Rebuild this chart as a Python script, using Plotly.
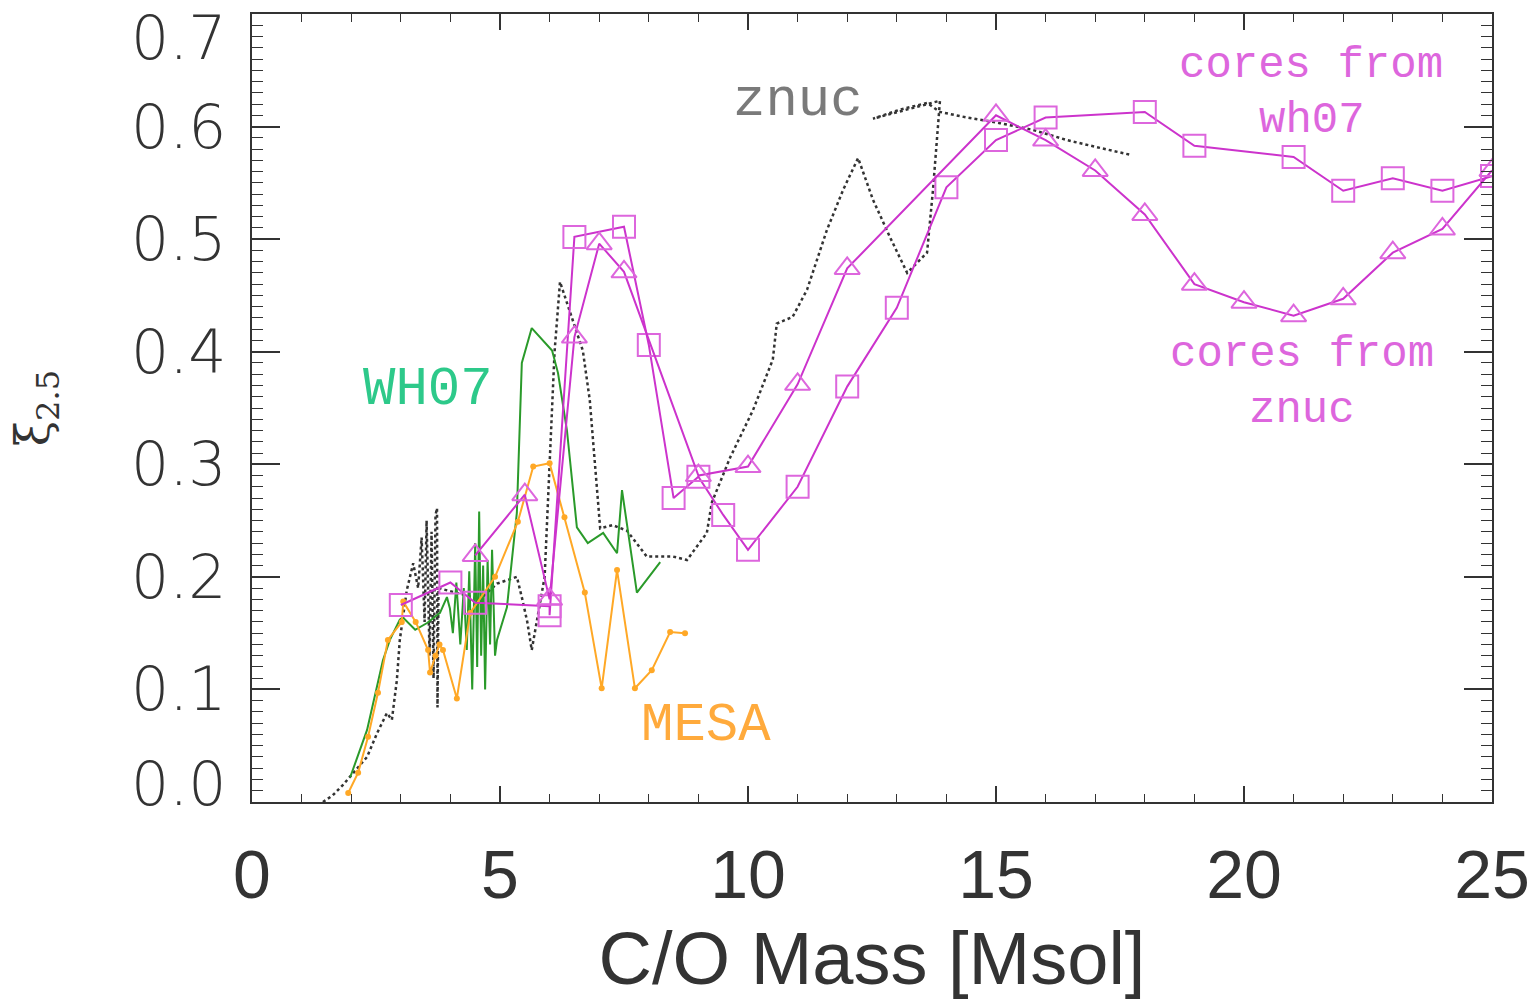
import plotly.graph_objects as go

# ---------------- data ----------------
# znuc (black dotted)
znuc_x = [1.43, 1.63, 1.83, 2.32, 2.52, 2.72, 2.82, 2.92, 2.98, 3.12, 3.25,
          3.35, 3.42, 3.48, 3.52, 3.58, 3.62, 3.66, 3.70, 3.73, 3.74, 3.76,
          4.20, 4.60, 4.94, 5.34, 5.45, 5.55, 5.64, 5.90, 6.00, 6.10, 6.21,
          6.67, 6.81, 6.92, 7.02, 7.27, 7.56, 7.96, 8.49, 8.77, 9.17, 9.27,
          9.64, 10.10, 10.50, 10.58, 10.90, 11.19, 11.59, 11.92, 12.22, 12.52,
          12.86, 13.21, 13.61, 13.73, 13.83, 13.87, 12.52, 13.06, 13.61, 13.87,
          14.42, 15.08, 15.75, 16.43, 17.10, 17.70]
znuc_y = [0.000, 0.006, 0.015, 0.040, 0.061, 0.079, 0.073, 0.108, 0.144, 0.188, 0.212,
          0.190, 0.235, 0.160, 0.250, 0.130, 0.240, 0.110, 0.255, 0.261, 0.084, 0.190,
          0.185, 0.180, 0.194, 0.200, 0.180, 0.160, 0.135, 0.200, 0.300, 0.400, 0.462,
          0.401, 0.357, 0.298, 0.243, 0.246, 0.241, 0.218, 0.218, 0.215, 0.239, 0.266,
          0.306, 0.348, 0.393, 0.425, 0.431, 0.455, 0.508, 0.544, 0.572, 0.535,
          0.502, 0.470, 0.488, 0.544, 0.603, 0.623, 0.607, 0.615, 0.621, 0.613,
          0.608, 0.603, 0.597, 0.588, 0.581, 0.575]

# WH07 (green)
wh07_x = [1.98, 2.32, 2.64, 2.78, 2.98, 3.04, 3.29, 3.53, 3.79, 3.93, 3.99,
          4.05, 4.12, 4.20, 4.27, 4.33, 4.38, 4.44, 4.50, 4.54, 4.58, 4.62,
          4.66, 4.70, 4.75, 4.80, 4.84, 4.90, 4.94, 5.14, 5.34, 5.44, 5.64,
          6.05, 6.17, 6.35, 6.55, 6.77, 7.08, 7.36, 7.46, 7.76, 8.23]
wh07_y = [0.022, 0.064, 0.126, 0.144, 0.162, 0.164, 0.153, 0.159, 0.168, 0.182, 0.172,
          0.150, 0.195, 0.140, 0.190, 0.135, 0.205, 0.100, 0.230, 0.120, 0.258, 0.130,
          0.210, 0.100, 0.215, 0.140, 0.224, 0.130, 0.144, 0.173, 0.257, 0.390, 0.421,
          0.401, 0.381, 0.330, 0.244, 0.230, 0.239, 0.221, 0.277, 0.186, 0.213]

# MESA (orange, dotted markers)
mesa_x = [1.94, 2.14, 2.34, 2.54, 2.74, 3.02, 3.05, 3.30, 3.55, 3.59, 3.70,
          3.78, 3.85, 4.13, 4.40, 4.90, 5.36, 5.67, 6.00, 6.30, 6.71, 7.05,
          7.36, 7.72, 8.06, 8.43, 8.73]
mesa_y = [0.008, 0.026, 0.058, 0.097, 0.144, 0.160, 0.178, 0.160, 0.135, 0.115, 0.130,
          0.140, 0.135, 0.092, 0.168, 0.200, 0.249, 0.298, 0.301, 0.253, 0.186, 0.101,
          0.206, 0.101, 0.117, 0.151, 0.150]

# cores from wh07 (squares)
sq_x = [3.0, 4.0, 4.5, 6.0, 6.0, 6.5, 7.5, 8.0, 8.5, 9.0, 9.5, 10.0, 11.0, 12.0,
        13.0, 14.0, 15.0, 16.0, 18.0, 19.0, 21.0, 22.0, 23.0, 24.0, 25.0]
sq_y = [0.175, 0.195, 0.177, 0.174, 0.166, 0.502, 0.511, 0.406, 0.270, 0.289, 0.255,
        0.224, 0.280, 0.369, 0.439, 0.546, 0.588, 0.608, 0.613, 0.583, 0.573, 0.543,
        0.554, 0.543, 0.556]

# cores from znuc (triangles)
tri_x = [4.5, 5.5, 6.0, 6.5, 7.0, 7.5, 9.0, 10.0, 11.0, 12.0, 15.0, 16.0, 17.0,
         18.0, 19.0, 20.0, 21.0, 22.0, 23.0, 24.0, 25.0]
tri_y = [0.219, 0.273, 0.180, 0.413, 0.496, 0.471, 0.290, 0.298, 0.371, 0.474, 0.610,
         0.588, 0.561, 0.522, 0.460, 0.444, 0.432, 0.447, 0.488, 0.509, 0.561]

x_ticks = [0, 5, 10, 15, 20, 25]
y_ticks = [0.0, 0.1, 0.2, 0.3, 0.4, 0.5, 0.6, 0.7]
y_ticklabels = ["0.0", "0.1", "0.2", "0.3", "0.4", "0.5", "0.6", "0.7"]

labels_text = ["znuc", "WH07", "MESA", "cores from", "wh07", "cores from", "znuc"]
labels_x = [11.0, 3.55, 9.15, 21.35, 21.37, 21.17, 21.17]
labels_y = [0.623, 0.366, 0.068, 0.655, 0.606, 0.398, 0.348]
labels_col = ["#7a7a7a", "#2dc98a", "#ffaa3c", "#dd66dd", "#dd66dd", "#dd66dd", "#dd66dd"]
labels_size = [54, 54, 54, 44, 44, 44, 44]

# ---------------- figure ----------------
fig = go.Figure()

fig.add_trace(go.Scatter(x=znuc_x, y=znuc_y, mode="lines",
                         line=dict(color="#333333", width=2.5, dash="dot"),
                         showlegend=False))
fig.add_trace(go.Scatter(x=wh07_x, y=wh07_y, mode="lines",
                         line=dict(color="#2a9a2a", width=2),
                         showlegend=False))
fig.add_trace(go.Scatter(x=mesa_x, y=mesa_y, mode="lines+markers",
                         line=dict(color="#ffa826", width=2),
                         marker=dict(color="#ffa826", size=6, symbol="circle"),
                         showlegend=False))
fig.add_trace(go.Scatter(x=sq_x, y=sq_y, mode="lines+markers",
                         line=dict(color="#cc33cc", width=2),
                         marker=dict(symbol="square-open", size=22,
                                     color="#dd66dd", line=dict(width=2, color="#dd66dd")),
                         showlegend=False))
fig.add_trace(go.Scatter(x=tri_x, y=tri_y, mode="lines+markers",
                         line=dict(color="#cc33cc", width=2),
                         marker=dict(symbol="triangle-up-open", size=22,
                                     color="#dd66dd", line=dict(width=2, color="#dd66dd")),
                         showlegend=False))

for t, x, y, c, s in zip(labels_text, labels_x, labels_y, labels_col, labels_size):
    fig.add_annotation(x=x, y=y, text=t, showarrow=False, xref="x", yref="y",
                       font=dict(family="Courier New, Liberation Mono, monospace",
                                 size=s, color=c))

# y tick labels (end labels nudged inward as in the reference)
for i, (v, t) in enumerate(zip(y_ticks, y_ticklabels)):
    shift = 0
    if i == 0:
        shift = 18
    elif i == len(y_ticks) - 1:
        shift = -24
    fig.add_annotation(x=0, y=v, xref="paper", yref="y", text=t, showarrow=False,
                       xanchor="right", yanchor="middle", xshift=-24, yshift=shift,
                       font=dict(family="DejaVu Sans, sans-serif", size=60,
                                 color="#333333", weight=200))

fig.update_xaxes(range=[0, 25.0001], tickvals=x_ticks, ticks="inside", ticklen=16,
                 tickwidth=1.5, tickcolor="#333", showline=True, linecolor="#333",
                 linewidth=2, mirror="ticks", showgrid=False, zeroline=False,
                 minor=dict(dtick=1, ticks="inside", ticklen=8, tickcolor="#333",
                            tickwidth=1.2, showgrid=False),
                 tickfont=dict(family="Liberation Sans Narrow, Liberation Sans, sans-serif",
                               size=68, color="#333333"),
                 ticklabelstandoff=12,
                 title=dict(text="C/O Mass [Msol]",
                            font=dict(family="Liberation Sans, sans-serif",
                                      size=74, color="#333333"),
                            standoff=22))
fig.update_yaxes(range=[0, 0.7], tickvals=y_ticks, showticklabels=False,
                 ticks="inside", ticklen=28, tickwidth=1.5, tickcolor="#333",
                 showline=True, linecolor="#333", linewidth=2, mirror="ticks",
                 showgrid=False, zeroline=False,
                 minor=dict(dtick=0.01, ticks="inside", ticklen=11, tickcolor="#333",
                            tickwidth=1.2, showgrid=False),
                 title=dict(text="ξ<sub>2.5</sub>",
                            font=dict(family="DejaVu Serif, serif", size=46,
                                      color="#333333"),
                            standoff=186))

fig.update_layout(width=1537, height=1007, plot_bgcolor="white", paper_bgcolor="white",
                  margin=dict(l=252, r=45, t=14, b=205, autoexpand=False))

# remove the default page body margin so the figure starts at the window's corner
fig.write_html("out.html", config={"displayModeBar": False},
               post_script="document.body.style.margin='0';document.body.style.overflow='hidden';")
